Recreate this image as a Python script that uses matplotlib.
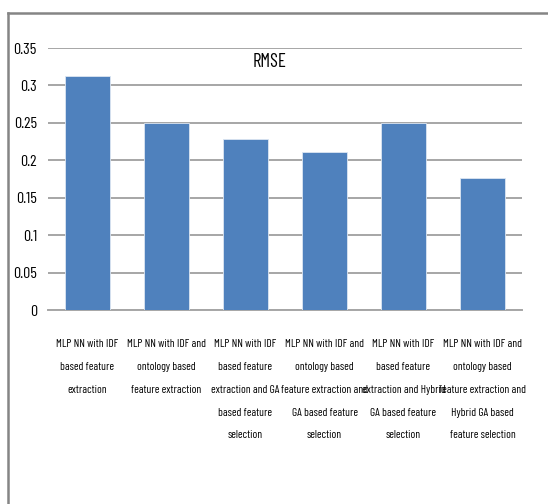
import matplotlib
matplotlib.use("Agg")
import matplotlib.pyplot as plt
from matplotlib.lines import Line2D
import numpy as np

categories = [
    "MLP NN with IDF\nbased feature\nextraction",
    "MLP NN with IDF and\nontology based\nfeature extraction",
    "MLP NN with IDF\nbased feature\nextraction and GA\nbased feature\nselection",
    "MLP NN with IDF and\nontology based\nfeature extraction and\nGA based feature\nselection",
    "MLP NN with IDF\nbased feature\nextraction and Hybrid\nGA based feature\nselection",
    "MLP NN with IDF and\nontology based\nfeature extraction and\nHybrid GA based\nfeature selection",
]
rmse = [0.313, 0.25, 0.228, 0.211, 0.25, 0.176]
yticks = [0, 0.05, 0.1, 0.15, 0.2, 0.25, 0.3, 0.35]
ytick_labels = ["0", "0.05", "0.1", "0.15", "0.2", "0.25", "0.3", "0.35"]

plt.rcParams["font.family"] = ["Barlow Condensed", "Archivo Narrow", "DejaVu Sans"]

fig = plt.figure(figsize=(5.48, 5.04), dpi=100)
ax = fig.add_axes([48 / 548, 1 - 310 / 504, 474 / 548, 262 / 504])

x = np.arange(len(categories))
ax.bar(x, rmse, width=0.57, color="#4F81BD", edgecolor="#DCE6F2", linewidth=0.6, zorder=3)

ax.set_xlim(-0.5, len(categories) - 0.5)
ax.set_ylim(0, 0.35)
ax.set_yticks(yticks)
ax.set_yticklabels(ytick_labels, fontsize=11.5)
ax.set_xticks(x)
ax.set_xticklabels(categories, fontsize=8.2, linespacing=2.6, va="top")
ax.tick_params(axis="both", length=0)
ax.tick_params(axis="y", pad=8)
ax.tick_params(axis="x", pad=21)
ax.yaxis.grid(True, color="#A6A6A6", linewidth=1.4, zorder=0)
ax.set_axisbelow(True)
for side in ["top", "right", "left"]:
    ax.spines[side].set_visible(False)
ax.spines["bottom"].set_color("#A6A6A6")
ax.spines["bottom"].set_linewidth(1.4)

fig.text(270 / 548, 1 - 62 / 504, "RMSE", ha="center", va="center", fontsize=13.5)

# chart frame (top and left edges)
fig.add_artist(Line2D([8 / 548, 1], [1 - 13 / 504] * 2, color="#858585", linewidth=1.8))
fig.add_artist(Line2D([8 / 548] * 2, [0, 1 - 13 / 504], color="#858585", linewidth=1.8))

fig.savefig("out.png", dpi=100)
